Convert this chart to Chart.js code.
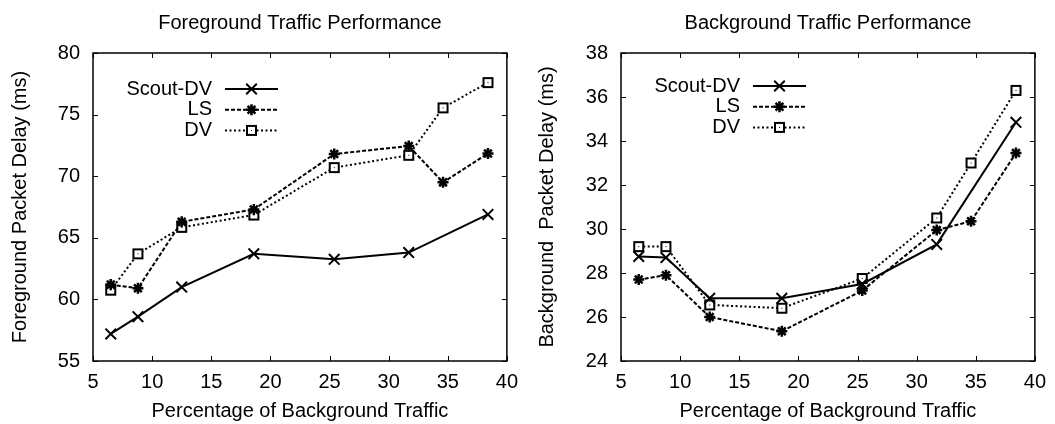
<!DOCTYPE html>
<html>
<head>
<meta charset="utf-8">
<title>Traffic Performance</title>
<script src="https://cdn.jsdelivr.net/npm/chart.js@4.4.1/dist/chart.umd.min.js"></script>
<style>
  body { margin: 0; background: #fff; }
  .row { display: flex; width: 1055px; height: 424px; }
  .box { position: relative; height: 424px; }
</style>
</head>
<body>
<div class="row">
  <div class="box" style="width:527px"><canvas id="fgChart"></canvas></div>
  <div class="box" style="width:528px"><canvas id="bgChart"></canvas></div>
</div>
<script>
// x: percentage of background traffic
const pctBg = [6.5, 8.8, 12.5, 18.6, 25.4, 31.7, 34.6, 38.4];

// foreground packet delay (ms)
const fgScoutDV = [57.2, 58.6, 61.0, 63.7, 63.25, 63.8, null, 66.9];
const fgLS      = [61.2, 60.9, 66.3, 67.3, 71.8, 72.45, 69.5, 71.85];
const fgDV      = [60.75, 63.7, 65.85, 66.85, 70.7, 71.7, 75.55, 77.6];

// background packet delay (ms)
const bgScoutDV = [28.75, 28.7, 26.85, 26.85, 27.5, 29.3, null, 34.85];
const bgLS      = [27.7, 27.9, 26.0, 25.35, 27.2, 29.95, 30.35, 33.45];
const bgDV      = [29.2, 29.2, 26.55, 26.4, 27.75, 30.5, 33.0, 36.3];

const seriesNames = ['Scout-DV', 'LS', 'DV'];

const FONT = "'Liberation Sans', Arial, Helvetica, sans-serif";
Chart.defaults.font.family = FONT;
Chart.defaults.font.size = 20;
Chart.defaults.color = '#000';

// open square with a dot in the middle (gnuplot style point)
function boxDot() {
  const c = document.createElement('canvas');
  c.width = 13; c.height = 13;
  const g = c.getContext('2d');
  g.fillStyle = '#fff';
  g.fillRect(1, 1, 11, 11);
  g.strokeStyle = '#000';
  g.lineWidth = 2;
  g.strokeRect(2, 2, 9, 9);
  g.fillStyle = '#000';
  g.fillRect(6, 6, 1, 1);
  return c;
}
const dvPoint = boxDot();

const styles = [
  { borderWidth: 2, borderDash: [], pointStyle: 'crossRot', pointRadius: 7.5, pointBorderWidth: 2 },
  { borderWidth: 2, borderDash: [4, 2], pointStyle: 'star', pointRadius: 5.5, pointBorderWidth: 2.5 },
  { borderWidth: 2, borderDash: [2, 2.5], pointStyle: dvPoint, pointRadius: 6, pointBorderWidth: 2 }
];

// frame with inward ticks on all four sides + key in the upper left
const framePlugin = {
  id: 'frame',
  afterDatasetsDraw(chart, args, opts) {
    const { ctx, chartArea: a, scales } = chart;
    ctx.save();
    ctx.strokeStyle = '#000';
    ctx.lineWidth = 1;
    const seg = (x1, y1, x2, y2) => { ctx.beginPath(); ctx.moveTo(x1, y1); ctx.lineTo(x2, y2); ctx.stroke(); };
    scales.x.ticks.forEach(t => {
      const px = Math.round(scales.x.getPixelForValue(t.value)) + 0.5;
      seg(px, a.bottom, px, a.bottom - 5);
      seg(px, a.top, px, a.top + 5);
    });
    scales.y.ticks.forEach(t => {
      const py = Math.round(scales.y.getPixelForValue(t.value)) + 0.5;
      seg(a.left, py, a.left + 5, py);
      seg(a.right, py, a.right - 5, py);
    });
    ctx.lineWidth = 1.5;
    ctx.strokeRect(a.left, a.top, a.right - a.left, a.bottom - a.top);

    // key
    chart.data.datasets.forEach((ds, i) => {
      const y = a.top + opts.keyTop + i * opts.keyStep;
      ctx.font = '20px ' + FONT;
      ctx.textAlign = 'right';
      ctx.textBaseline = 'middle';
      ctx.fillStyle = '#000';
      ctx.fillText(ds.label, a.left + 119, y);
      ctx.lineWidth = ds.borderWidth;
      ctx.setLineDash(ds.borderDash);
      seg(a.left + 132, y, a.left + 185, y);
      ctx.setLineDash([]);
      ctx.lineWidth = ds.pointBorderWidth;
      ctx.fillStyle = '#fff';
      Chart.helpers.drawPoint(ctx, {
        pointStyle: ds.pointStyle, radius: ds.pointRadius,
        borderWidth: ds.pointBorderWidth, rotation: 0
      }, a.left + 158.5, y);
    });
    ctx.restore();
  }
};

function makeChart(id, title, yTitle, yMin, yMax, yStep, series, yWidth, keyTop) {
  const datasets = series.map((vals, i) => ({
    label: seriesNames[i],
    data: pctBg.map((x, j) => ({ x: x, y: vals[j] })),
    borderColor: '#000',
    backgroundColor: '#fff',
    pointBackgroundColor: '#fff',
    pointBorderColor: '#000',
    tension: 0,
    spanGaps: true,
    ...styles[i]
  }));

  return new Chart(document.getElementById(id), {
    type: 'line',
    data: { datasets },
    plugins: [framePlugin],
    options: {
      responsive: true,
      maintainAspectRatio: false,
      devicePixelRatio: 1,
      animation: false,
      events: [],
      layout: { padding: { left: 0, right: 15, top: 0, bottom: 0 } },
      plugins: {
        legend: { display: false },
        tooltip: { enabled: false },
        title: {
          display: true,
          fullSize: false,
          text: title,
          font: { size: 20, weight: 'normal' },
          color: '#000',
          padding: { top: 11, bottom: 18 }
        },
        frame: { keyTop: keyTop, keyStep: 20.7 }
      },
      scales: {
        x: {
          type: 'linear',
          min: 5, max: 40,
          grid: { display: false, drawTicks: false },
          border: { display: false },
          ticks: { stepSize: 5, padding: 9, color: '#000', maxRotation: 0 },
          title: { display: true, text: 'Percentage of Background Traffic', color: '#000', padding: { top: 0, bottom: 1 } },
          afterFit(scale) { scale.height = 63; }
        },
        y: {
          min: yMin, max: yMax,
          grid: { display: false, drawTicks: false },
          border: { display: false },
          ticks: { stepSize: yStep, padding: 13, color: '#000' },
          title: { display: true, text: yTitle, color: '#000', padding: { top: 8, bottom: 0 } },
          afterFit(scale) { scale.width = yWidth; }
        }
      }
    }
  });
}

makeChart('fgChart', 'Foreground Traffic Performance', 'Foreground Packet Delay (ms)',
  55, 80, 5, [fgScoutDV, fgLS, fgDV], 93, 36);
makeChart('bgChart', 'Background Traffic Performance', 'Background  Packet Delay (ms)',
  24, 38, 2, [bgScoutDV, bgLS, bgDV], 94, 33);
</script>
</body>
</html>
